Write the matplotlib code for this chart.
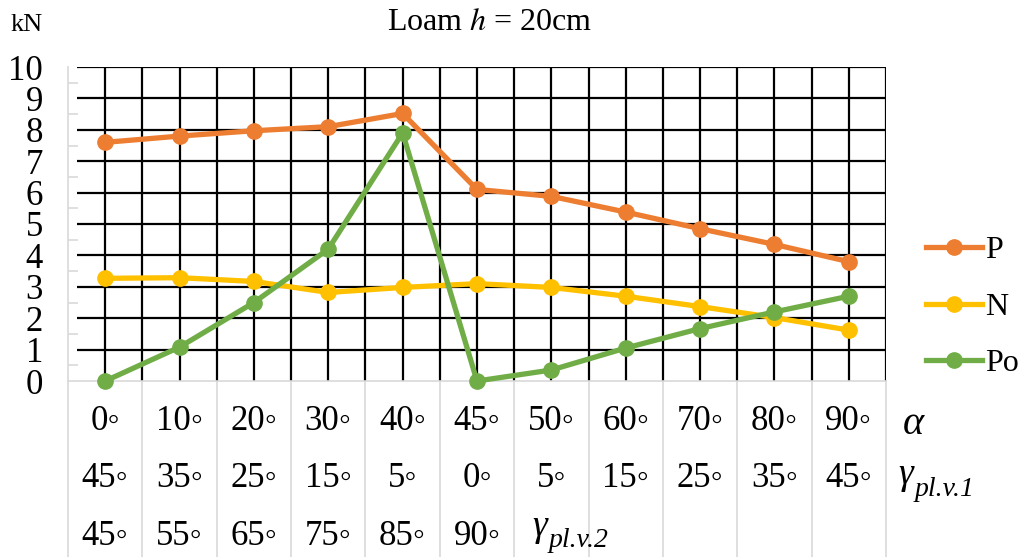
import matplotlib
matplotlib.use("Agg")
import matplotlib.pyplot as plt
import matplotlib.transforms as mtransforms

plt.rcParams["font.family"] = ["Liberation Serif", "DejaVu Sans"]
plt.rcParams["mathtext.fontset"] = "stix"

alpha = ["0", "10", "20", "30", "40", "45", "50", "60", "70", "80", "90"]
gamma1 = ["45", "35", "25", "15", "5", "0", "5", "15", "25", "35", "45"]
gamma2 = ["45", "55", "65", "75", "85", "90"]

P = [7.6, 7.8, 7.97, 8.1, 8.52, 6.1, 5.88, 5.38, 4.85, 4.35, 3.8]
N = [3.27, 3.29, 3.17, 2.82, 2.98, 3.1, 2.98, 2.7, 2.37, 2.02, 1.62]
Po = [0.0, 1.08, 2.5, 4.2, 7.9, 0.0, 0.35, 1.05, 1.67, 2.2, 2.7]

series = [("P", P, "#ED7D31"), ("N", N, "#FFC000"), ("Po", Po, "#70AD47")]

GRID = "#000000"
LIGHT = "#d9d9d9"
FS = 25

W, H = 1022, 557
fig = plt.figure(figsize=(W / 100, H / 100), dpi=100)
ax = fig.add_axes([68 / W, (H - 381) / H, 818 / W, 314 / H])

n = len(alpha)
x = list(range(n))
ax.set_xlim(-0.5, n - 0.5)
ax.set_ylim(0, 10)

# black grid: horizontal at each unit, vertical at every half category
ax.hlines(range(1, 11), -0.38, n - 0.5, color=GRID, lw=1.6, zorder=1)
ax.vlines([k * 0.5 for k in range(0, 2 * n)], 0, 10, color=GRID, lw=1.6, zorder=1)

for name, vals, col in series:
    ax.plot(x, vals, color=col, lw=3.8, marker="o", ms=11, label=name, zorder=3, clip_on=False)

for s in ["top", "right"]:
    ax.spines[s].set_visible(False)
ax.spines["left"].set_color(LIGHT)
ax.spines["bottom"].set_color(LIGHT)
ax.spines["left"].set_linewidth(1.2)
ax.spines["bottom"].set_linewidth(1.2)

ax.set_yticks(range(0, 11))
ax.set_yticks([k + 0.5 for k in range(10)], minor=True)
ax.tick_params(axis="y", which="major", length=0, pad=18, labelsize=FS)
ax.tick_params(axis="y", which="minor", direction="in", length=7, color=LIGHT, width=1.2)
ax.set_xticks([])

# category table below the axis
trans = mtransforms.blended_transform_factory(ax.transData, ax.transAxes)
bottom = -(H - 381) / 314
for k in range(n + 1):
    ax.plot([k - 0.5, k - 0.5], [0, bottom], color=LIGHT, lw=1.2, transform=trans, clip_on=False, zorder=0)

rows_y = [-0.13, -0.31, -0.495]
for i in range(n):
    ax.text(i, rows_y[0], alpha[i] + "◦", transform=trans, ha="center", va="center", fontsize=FS)
    ax.text(i, rows_y[1], gamma1[i] + "◦", transform=trans, ha="center", va="center", fontsize=FS)
for i in range(len(gamma2)):
    ax.text(i, rows_y[2], gamma2[i] + "◦", transform=trans, ha="center", va="center", fontsize=FS)


def gamma_label(xpos, ypos, sub):
    g = ax.text(xpos, ypos, "γ", transform=trans, ha="left", va="center", fontsize=FS + 2, fontstyle="italic")
    ax.annotate(sub, xy=(1, 0.1), xycoords=g, xytext=(1, 0), textcoords="offset points",
                ha="left", va="center", fontsize=FS - 5, fontstyle="italic")


ax.text(n - 0.27, rows_y[0] - 0.01, "α", transform=trans, ha="left", va="center", fontsize=FS + 4, fontstyle="italic")
gamma_label(n - 0.33, rows_y[1] + 0.01, "pl.v.1")
gamma_label(len(gamma2) - 0.26, rows_y[2] + 0.03, "pl.v.2")

fig.text(490 / W, 1 - 22 / H, r"Loam $h$ = 20cm", ha="center", va="center", fontsize=23)
fig.text(11 / W, 1 - 25 / H, "kN", ha="left", va="center", fontsize=19)

ax.legend(loc="center left", bbox_to_anchor=(926 / W, 1 - 307 / H), bbox_transform=fig.transFigure,
          frameon=False, fontsize=23, handlelength=1.75, handletextpad=0.1, labelspacing=0.85,
          borderaxespad=0, borderpad=0)

fig.savefig("out.png", dpi=100, facecolor="white")
